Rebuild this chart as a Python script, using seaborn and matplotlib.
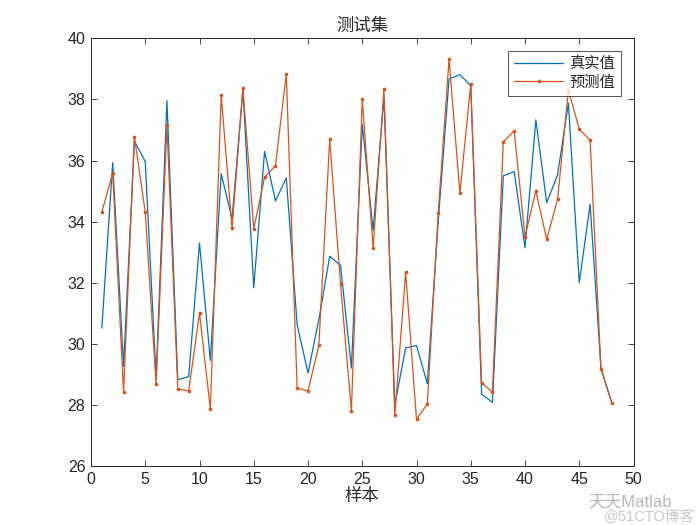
"""Test-set prediction vs. true values, MATLAB-like look.
"""

import numpy as np
import pandas as pd
import matplotlib
matplotlib.use("Agg")
import matplotlib.pyplot as plt
import seaborn as sns

# Data
sample = list(range(1, 49))
true_vals = [30.52, 35.93, 29.27, 36.64, 35.97, 28.9, 37.96, 28.83, 28.93, 33.30,
             29.46, 35.57, 34.10, 38.34, 31.84, 36.30, 34.68, 35.43, 30.63, 29.05,
             30.80, 32.87, 32.57, 29.21, 37.19, 33.72, 38.07, 28.00, 29.87, 29.95,
             28.70, 34.00, 38.67, 38.81, 38.45, 28.36, 28.09, 35.50, 35.64, 33.15,
             37.33, 34.62, 35.53, 37.88, 32.00, 34.57, 29.21, 28.07]
pred_vals = [34.32, 35.58, 28.43, 36.78, 34.32, 28.68, 37.16, 28.53, 28.46, 31.01,
             27.87, 38.14, 33.78, 38.36, 33.77, 35.46, 35.83, 38.83, 28.56, 28.46,
             29.95, 36.70, 31.95, 27.81, 38.02, 33.13, 38.34, 27.66, 32.34, 27.53,
             28.04, 34.28, 39.32, 34.93, 38.52, 28.72, 28.43, 36.61, 36.97, 33.51,
             35.01, 33.42, 34.73, 38.30, 37.03, 36.67, 29.18, 28.07]
series_names = ["真实值", "预测值"]

df = pd.DataFrame({"样本": sample, series_names[0]: true_vals, series_names[1]: pred_vals})

sns.set_theme(style="white")
plt.rcParams['font.family'] = ['Liberation Sans', 'Noto Sans CJK SC', 'DejaVu Sans']
plt.rcParams['axes.unicode_minus'] = False

fig = plt.figure(figsize=(7, 5.25), dpi=100)
ax = fig.add_axes([0.13, 0.112, 0.775, 0.815])

sns.lineplot(data=df, x="样本", y=series_names[0], ax=ax, color="#0072BD",
             linewidth=0.9, label=series_names[0])
sns.lineplot(data=df, x="样本", y=series_names[1], ax=ax, color="#D95319",
             linewidth=0.9, marker="o", markersize=2.6, markeredgewidth=0,
             label=series_names[1])

ax.set_xlim(0, 50)
ax.set_ylim(26, 40)
ax.set_xticks(np.arange(0, 51, 5))
ax.set_yticks(np.arange(26, 41, 2))
ax.set_title("测试集", fontsize=12.5, color="#262626", pad=5)
ax.set_xlabel("样本", fontsize=12.5, color="#262626", labelpad=1)
ax.set_ylabel("")

for sp in ax.spines.values():
    sp.set_color("#262626")
    sp.set_linewidth(0.7)
ax.tick_params(direction="in", length=4, width=0.6, colors="#262626",
               labelsize=11.5, top=True, right=True, bottom=True, left=True, pad=4)

leg = ax.legend(loc="upper right", fontsize=11, frameon=True, fancybox=False,
                handlelength=3.2, borderpad=0.4, labelspacing=0.3,
                handletextpad=0.4, borderaxespad=0.8)
leg.get_frame().set_edgecolor("#262626")
leg.get_frame().set_linewidth(0.7)

# watermark
fig.text(0.84, 0.036, "天天Matlab", fontsize=12, color="#b8b8b8")
fig.text(0.862, 0.008, "@51CTO博客", fontsize=10.5, color="#c8c8c8")

fig.savefig("out.png", dpi=100, facecolor="white")
